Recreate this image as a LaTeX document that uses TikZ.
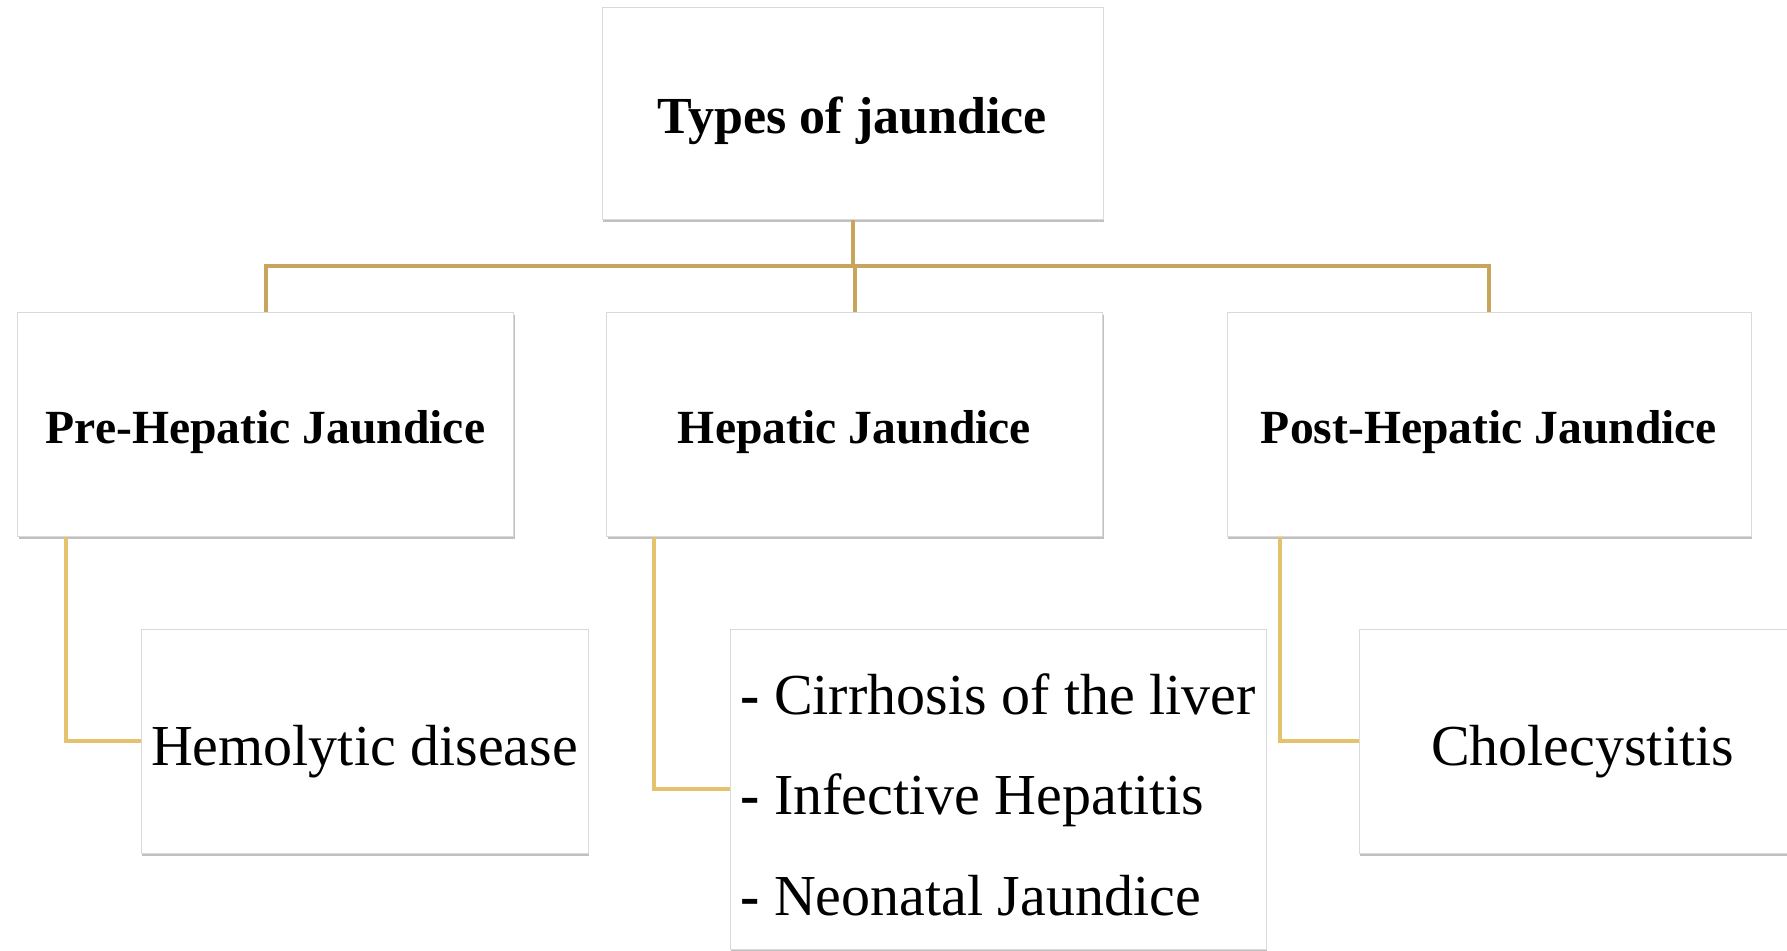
\documentclass[tikz,border=0pt]{standalone}
\usepackage{fontspec}
\setmainfont{Liberation Serif}
\usepackage{xcolor}
\usepackage{tikz}
\usetikzlibrary{calc, shadows, positioning}
\definecolor{busgold}{HTML}{C9A55C}
\definecolor{leafgold}{HTML}{E5C26E}
\definecolor{boxline}{HTML}{D9D9D9}
\tikzset{
    card/.style={draw=boxline, line width=0.5pt, fill=white, inner sep=0pt, align=center,
        drop shadow={shadow xshift=0.6pt, shadow yshift=-1.5pt, opacity=0.45, fill=black!55}},
    rootcard/.style={card, minimum width=250.5pt, minimum height=106pt,
        text height=20pt, text depth=0pt,
        font=\fontsize{26}{31}\selectfont\bfseries},
    typecard/.style={card, minimum width=248pt, minimum height=112pt,
        text height=19pt, text depth=0pt,
        font=\fontsize{23.8}{28}\selectfont\bfseries},
    leafcard/.style={card, minimum width=223.5pt, minimum height=112pt,
        text height=24pt, text depth=0pt,
        font=\fontsize{29}{34}\selectfont},
    busline/.style={draw=busgold, line width=2pt},
    leafline/.style={draw=leafgold, line width=2pt},
}
\begin{document}
\begin{tikzpicture}[x=0.5pt, y=-0.5pt]
    % Page frame (1787 x 950 px)
    \useasboundingbox (0,0) rectangle (1787,950);
    \clip (0,0) rectangle (1787,950);

    % Connectors from the title down to the three types
    \coordinate (bus) at (852.5,266);

    %Title
    \node[rootcard] (root) at (852.5,113) {Types of jaundice};

    %Three types
    \node[typecard] (pre) at (265.5,424) {Pre-Hepatic Jaundice};
    \node[typecard] (hep) at (854.5,424) {Hepatic Jaundice};
    \node[typecard, minimum width=262pt] (post) at (1489,424) {Post-Hepatic Jaundice};

    \draw[busline] (root.south) -- (bus);
    \draw[busline] (pre.north) |- (bus) -| (post.north);
    \draw[busline] (bus -| hep.north) -- (hep.north);

    %Examples of each type
    \node[leafcard] (hemo) at (364.5,741) {Hemolytic disease};
    \node[card, minimum width=268pt, minimum height=160pt,
          align=left, font=\fontsize{29}{50.25}\selectfont] (list) at (998,789)
        {\rule{0pt}{26pt}\textbf{-} Cirrhosis of the liver\\
         \textbf{-} Infective Hepatitis\\
         \textbf{-} Neonatal Jaundice};
    \node[leafcard] (chole) at (1582.5,741) {Cholecystitis};

    % Elbows into the examples
    \draw[leafline] ([xshift=24.5pt]pre.south west) |- (hemo.west);
    \draw[leafline] ([xshift=24pt]hep.south west) |- (list.west);
    \draw[leafline] ([xshift=26.5pt]post.south west) |- (chole.west);
\end{tikzpicture}
\end{document}
